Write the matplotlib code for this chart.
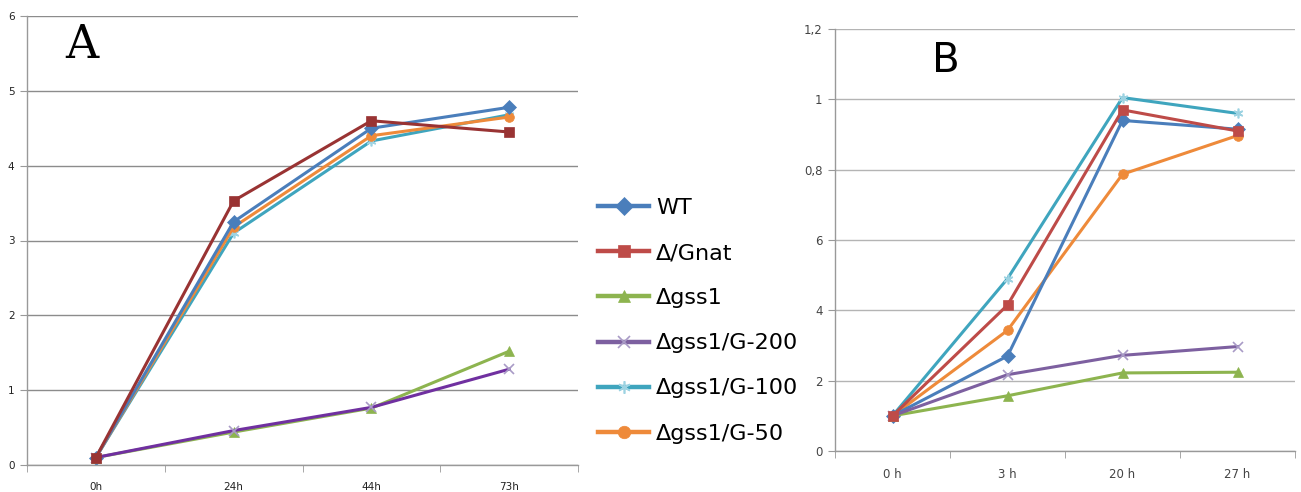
import numpy as np
import matplotlib
matplotlib.use('Agg')
import matplotlib.pyplot as plt
from matplotlib.lines import Line2D

# data
names = ['WT', 'Δ/Gnat', 'Δgss1', 'Δgss1/G-200', 'Δgss1/G-100', 'Δgss1/G-50']

time_a = ['0h', '24h', '44h', '73h']
wt_a = [0.10, 3.25, 4.50, 4.78]
gnat_a = [0.10, 3.53, 4.60, 4.45]
gss1_a = [0.10, 0.44, 0.76, 1.52]
g200_a = [0.10, 0.46, 0.77, 1.28]
g100_a = [0.10, 3.10, 4.33, 4.68]
g50_a = [0.10, 3.18, 4.40, 4.65]

time_b = ['0 h', '3 h', '20 h', '27 h']
wt_b = [0.10, 0.27, 0.94, 0.915]
gnat_b = [0.10, 0.415, 0.97, 0.91]
gss1_b = [0.10, 0.157, 0.222, 0.224]
g200_b = [0.10, 0.217, 0.272, 0.297]
g100_b = [0.10, 0.49, 1.005, 0.96]
g50_b = [0.10, 0.343, 0.787, 0.897]

ticks_a = [0, 1, 2, 3, 4, 5, 6]
ticks_b = [0, 0.2, 0.4, 0.6, 0.8, 1.0, 1.2]
ticklabels_b = ['0', '2', '4', '6', '0,8', '1', '1,2']  # as printed in the original

markers = ['D', 's', '^', 'x', (6, 2, 0), 'o']
colors_a = ['#4A7EBB', '#993333', '#8DB44F', '#7030A0', '#3FA5BE', '#EE8A3A']
colors_b = ['#4A7EBB', '#BE4B48', '#8DB44F', '#7D60A0', '#3FA5BE', '#EE8A3A']
edge_light = {3: '#A99BC6', 4: '#9DD3E2'}

fig = plt.figure(figsize=(13.01, 4.92), dpi=100)
W, H = 1301, 492
axA = fig.add_axes([27 / W, (H - 465) / H, (578 - 27) / W, (465 - 16) / H])
axB = fig.add_axes([835 / W, (H - 451) / H, (1295 - 835) / W, (451 - 29) / H])


def style(ax, labels, yticks, ymax, fs, color, gridc):
    ax.set_xlim(-0.5, 3.5)
    ax.set_ylim(0, ymax)
    ax.set_xticks(range(4))
    ax.set_xticklabels(labels, fontsize=fs, color=color)
    ax.set_xticks(np.arange(-0.5, 4, 1), minor=True)
    ax.tick_params(axis='x', which='major', length=0, pad=12)
    ax.tick_params(axis='x', which='minor', length=5, color='#999999', direction='out')
    ax.set_yticks(yticks)
    ax.tick_params(axis='y', length=5, color='#999999', labelsize=fs, labelcolor=color, pad=4)
    ax.yaxis.grid(True, color=gridc, linewidth=1.0)
    ax.set_axisbelow(True)
    for s in ['top', 'right']:
        ax.spines[s].set_visible(False)
    for s in ['left', 'bottom']:
        ax.spines[s].set_color('#999999')
        ax.spines[s].set_linewidth(1.0)


series_a = [wt_a, gnat_a, gss1_a, g200_a, g100_a, g50_a]
series_b = [wt_b, gnat_b, gss1_b, g200_b, g100_b, g50_b]
order = [4, 5, 0, 2, 3, 1]

for i in order:
    ec = edge_light.get(i, colors_a[i])
    axA.plot(range(4), series_a[i], color=colors_a[i], lw=2.2, marker=markers[i],
             ms=7, mfc=colors_a[i], mec=ec, mew=1.2 if i in edge_light else 0.5)
for i in order:
    ec = edge_light.get(i, colors_b[i])
    axB.plot(range(4), series_b[i], color=colors_b[i], lw=2.2, marker=markers[i],
             ms=7, mfc=colors_b[i], mec=ec, mew=1.2 if i in edge_light else 0.5)

style(axA, time_a, ticks_a, 6, 7.5, '#222222', '#8C8C8C')
style(axB, time_b, ticks_b, 1.2, 8.5, '#444444', '#B4B4B4')
axB.set_yticklabels(ticklabels_b)

axA.text(0.1, 0.935, 'A', transform=axA.transAxes, fontsize=33, family='DejaVu Serif',
         ha='center', va='center')
axB.text(0.24, 0.925, 'B', transform=axB.transAxes, fontsize=29, family='DejaVu Sans',
         ha='center', va='center')

handles = [Line2D([], [], color=colors_b[i], lw=3.2, marker=markers[i], ms=9,
                  mfc=colors_b[i], mec=edge_light.get(i, colors_b[i]),
                  mew=1.2 if i in edge_light else 0.5) for i in range(6)]
fig.legend(handles, names, loc='upper left', bbox_to_anchor=(598 / W, (H - 198) / H),
           frameon=False, fontsize=16, handlelength=2.3, handletextpad=0.3,
           labelspacing=1.13, borderpad=0, borderaxespad=0)

fig.savefig('out.png', dpi=100)
